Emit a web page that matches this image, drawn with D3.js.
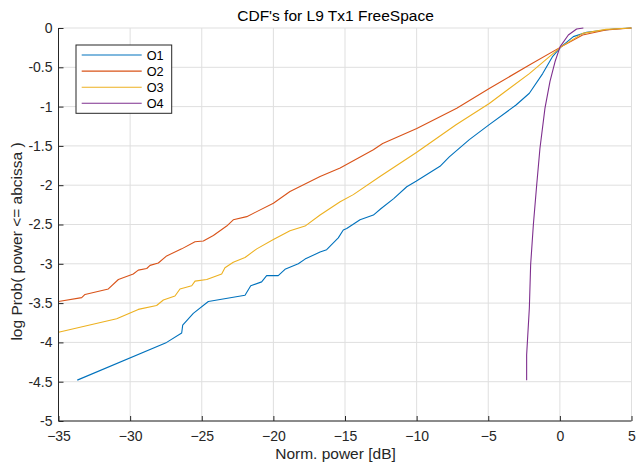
<!DOCTYPE html>
<html><head><meta charset="utf-8">
<script src="https://cdn.jsdelivr.net/npm/d3@7"></script>
<style>body{margin:0;background:#fff}svg{display:block}text{font-family:"Liberation Sans",Arial,Helvetica,sans-serif}</style>
</head><body><svg id="c" width="636" height="466"></svg>
<script>
const seriesNames = ["O1","O2","O3","O4"];
const seriesColors = ["#0072BD","#D95319","#EDB120","#7E2F8E"];
const o1x = [-33.69,-27.45,-26.40,-26.33,-25.59,-24.54,-21.98,-21.58,-20.82,-20.47,-19.66,-19.19,-18.26,-17.79,-16.74,-16.28,-15.47,-15.12,-14.88,-13.95,-13.02,-12.5,-11.6,-10.69,-10.04,-8.37,-7.72,-6.32,-4.93,-3.06,-2.13,-1.20,-0.50,0.08,0.94,1.87,3.73,5];
const o1y = [-4.48,-4.00,-3.88,-3.78,-3.63,-3.48,-3.40,-3.28,-3.23,-3.15,-3.15,-3.07,-3.00,-2.94,-2.85,-2.82,-2.67,-2.57,-2.55,-2.44,-2.38,-2.30,-2.17,-2.02,-1.95,-1.76,-1.64,-1.42,-1.23,-0.98,-0.83,-0.58,-0.36,-0.24,-0.11,-0.055,-0.013,0];
const o2x = [-35,-33.38,-33.15,-31.52,-30.82,-29.78,-29.43,-28.84,-28.61,-28.03,-27.45,-26.40,-25.47,-24.89,-24.19,-23.26,-22.80,-21.86,-20.0,-18.84,-16.74,-15.34,-13.02,-12.37,-9.99,-7.20,-4.93,-2.13,0.08,1.59,3.22,5];
const o2y = [-3.48,-3.43,-3.39,-3.32,-3.20,-3.13,-3.08,-3.06,-3.02,-2.99,-2.90,-2.81,-2.72,-2.71,-2.64,-2.52,-2.44,-2.40,-2.23,-2.08,-1.89,-1.78,-1.55,-1.47,-1.28,-1.02,-0.77,-0.47,-0.24,-0.089,-0.025,0];
const o3x = [-35,-30.94,-29.43,-28.15,-27.68,-26.87,-26.52,-25.70,-25.47,-24.65,-23.61,-23.38,-22.80,-21.98,-21.16,-20.0,-18.84,-17.79,-16.74,-15.34,-14.42,-12.56,-9.99,-7.25,-4.93,-2.13,0.08,1.59,3.22,5];
const o3y = [-3.87,-3.70,-3.58,-3.53,-3.46,-3.41,-3.32,-3.28,-3.22,-3.20,-3.13,-3.05,-2.98,-2.92,-2.81,-2.69,-2.58,-2.52,-2.38,-2.21,-2.12,-1.89,-1.58,-1.23,-0.96,-0.58,-0.24,-0.068,-0.017,0];
const o4x = [-2.32,-2.32,-2.13,-2.04,-1.85,-1.62,-1.39,-1.04,-0.69,-0.34,0.01,0.59,1.17,1.64];
const o4y = [-4.48,-4.16,-3.56,-3.01,-2.50,-2.00,-1.53,-1.02,-0.68,-0.43,-0.24,-0.089,-0.013,0.0];
const xTicks = [-35,-30,-25,-20,-15,-10,-5,0,5];
const yTicks = [0,-0.5,-1,-1.5,-2,-2.5,-3,-3.5,-4,-4.5,-5];
const titleText = "CDF's for L9 Tx1 FreeSpace";
const xLabel = "Norm. power [dB]";
const yLabel = "log Prob( power <= abcissa )";

const L = 58.5, R = 631.5, T = 28, B = 421;
const svg = d3.select("#c");
const x = d3.scaleLinear().domain([-35,5]).range([L,R]);
const y = d3.scaleLinear().domain([-5,0]).range([B,T]);
const axisCol = "#262626";

// grid
const g = svg.append("g");
g.selectAll(".gx").data(xTicks).enter().append("line")
  .attr("x1",d=>x(d)).attr("x2",d=>x(d)).attr("y1",T).attr("y2",B)
  .attr("stroke","#dfdfdf").attr("stroke-width",1);
g.selectAll(".gy").data(yTicks).enter().append("line")
  .attr("y1",d=>y(d)).attr("y2",d=>y(d)).attr("x1",L).attr("x2",R)
  .attr("stroke","#dfdfdf").attr("stroke-width",1);

// series
const data = [[o1x,o1y],[o2x,o2y],[o3x,o3y],[o4x,o4y]];
const line = d3.line().x(d=>x(d[0])).y(d=>y(d[1]));
data.forEach((s,i)=>{
  const pts = s[0].map((v,k)=>[v,s[1][k]]);
  svg.append("path").attr("d",line(pts)).attr("fill","none")
    .attr("stroke",seriesColors[i]).attr("stroke-width",1.1).attr("stroke-linejoin","round");
});

// axes
const xa = svg.append("g").attr("transform",`translate(0,${B})`)
  .call(d3.axisBottom(x).tickValues(xTicks).tickSize(-5).tickPadding(10).tickFormat(d3.format("d")));
const ya = svg.append("g").attr("transform",`translate(${L},0)`)
  .call(d3.axisLeft(y).tickValues(yTicks).tickSize(-5).tickPadding(6).tickFormat(d=>String(d)));
[xa,ya].forEach(a=>{
  a.select(".domain").attr("stroke",axisCol).attr("stroke-width",1);
  a.selectAll(".tick line").attr("stroke",axisCol);
  a.selectAll("text").attr("fill",axisCol).style("font-size","14px");
});
xa.selectAll(".domain").attr("d",`M${L},0H${R}`);
ya.selectAll(".domain").attr("d",`M0,${B}V${T}`);

// title & labels
svg.append("text").attr("x",335.5).attr("y",21).attr("text-anchor","middle")
  .style("font-size","15.5px").attr("fill","#000").text(titleText);
svg.append("text").attr("x",335.5).attr("y",458.5).attr("text-anchor","middle")
  .style("font-size","15.5px").attr("fill",axisCol).text(xLabel);
svg.append("text").attr("transform","translate(22,241.5) rotate(-90)").attr("text-anchor","middle")
  .style("font-size","15.5px").attr("fill",axisCol).text(yLabel);

// legend
const lg = svg.append("g");
lg.append("rect").attr("x",76).attr("y",45).attr("width",95.7).attr("height",68.3)
  .attr("fill","#fff").attr("stroke",axisCol).attr("stroke-width",1);
seriesNames.forEach((n,i)=>{
  const yy = 55 + i*16.1;
  lg.append("line").attr("x1",81.7).attr("x2",141.7).attr("y1",yy).attr("y2",yy)
    .attr("stroke",seriesColors[i]).attr("stroke-width",1.1);
  lg.append("text").attr("x",146.7).attr("y",yy).attr("dy","0.36em")
    .style("font-size","12.7px").attr("fill","#000").text(n);
});
</script></body></html>
